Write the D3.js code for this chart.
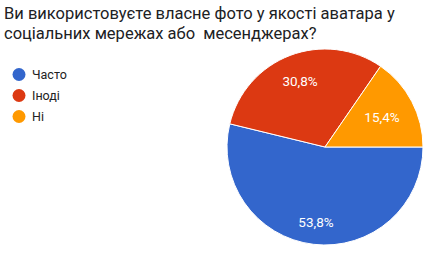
<!DOCTYPE html>
<html>
<head>
<meta charset="utf-8">
<script src="https://cdn.jsdelivr.net/npm/d3@7"></script>
<style>
  body { margin: 0; background: #fff; }
  svg { display: block; }
</style>
</head>
<body>
<svg width="446" height="253"></svg>
<script>
const titleLines = ['Ви використовуєте власне фото у якості аватара у', 'соціальних мережах або  месенджерах?'];
const categories = ['Часто', 'Іноді', 'Ні'];
const values = [53.8, 30.8, 15.4];
const labels = ['53,8%', '30,8%', '15,4%'];
const colors = ['#3366cc', '#dc3912', '#ff9900'];

const svg = d3.select('svg');

// title
svg.append('text')
    .attr('font-family', 'Roboto, sans-serif')
    .attr('font-size', '16.5px')
    .attr('fill', '#202124')
    .selectAll('tspan')
    .data(titleLines)
    .enter()
    .append('tspan')
        .attr('x', 4)
        .attr('y', (d, i) => 19 + i * 20)
        .attr('xml:space', 'preserve')
        .style('white-space', 'pre')
        .text(d => d);

// legend
let legend = svg.append('g');
let legendItems = legend.selectAll('g')
    .data(categories)
    .enter()
    .append('g')
        .attr('transform', (d, i) => `translate(19, ${74.5 + i * 21})`);

legendItems.append('circle')
    .attr('r', 6.5)
    .attr('fill', (d, i) => colors[i]);

legendItems.append('text')
    .attr('x', 13)
    .attr('y', 4.5)
    .attr('font-family', 'Roboto, sans-serif')
    .attr('font-size', '12.5px')
    .attr('fill', '#222')
    .text(d => d);

// pie
const cx = 325, cy = 147, radius = 98;
// how far out each slice label sits (fraction of radius), like google charts does it
const labelDist = [0.776, 0.714, 0.657];

let pie = d3.pie()
    .sort(null)
    .startAngle(Math.PI / 2)
    .endAngle(Math.PI / 2 + 2 * Math.PI)
    .value(d => d);

let arc = d3.arc().innerRadius(0).outerRadius(radius);

let arcs = pie(values);

let pieGroup = svg.append('g')
    .attr('transform', `translate(${cx}, ${cy})`);

pieGroup.selectAll('path')
    .data(arcs)
    .enter()
    .append('path')
        .attr('d', arc)
        .attr('fill', (d, i) => colors[i])
        .attr('stroke', '#fff')
        .attr('stroke-width', 1);

function labelPos(d, i) {
    let r = radius * labelDist[i];
    return d3.arc().innerRadius(r).outerRadius(r).centroid(d);
}

pieGroup.selectAll('text')
    .data(arcs)
    .enter()
    .append('text')
        .attr('x', (d, i) => labelPos(d, i)[0])
        .attr('y', (d, i) => labelPos(d, i)[1])
        .attr('dy', '0.35em')
        .attr('text-anchor', 'middle')
        .attr('font-family', 'Roboto, sans-serif')
        .attr('font-size', '13.5px')
        .attr('fill', '#fff')
        .text((d, i) => labels[i]);
</script>
</body>
</html>
